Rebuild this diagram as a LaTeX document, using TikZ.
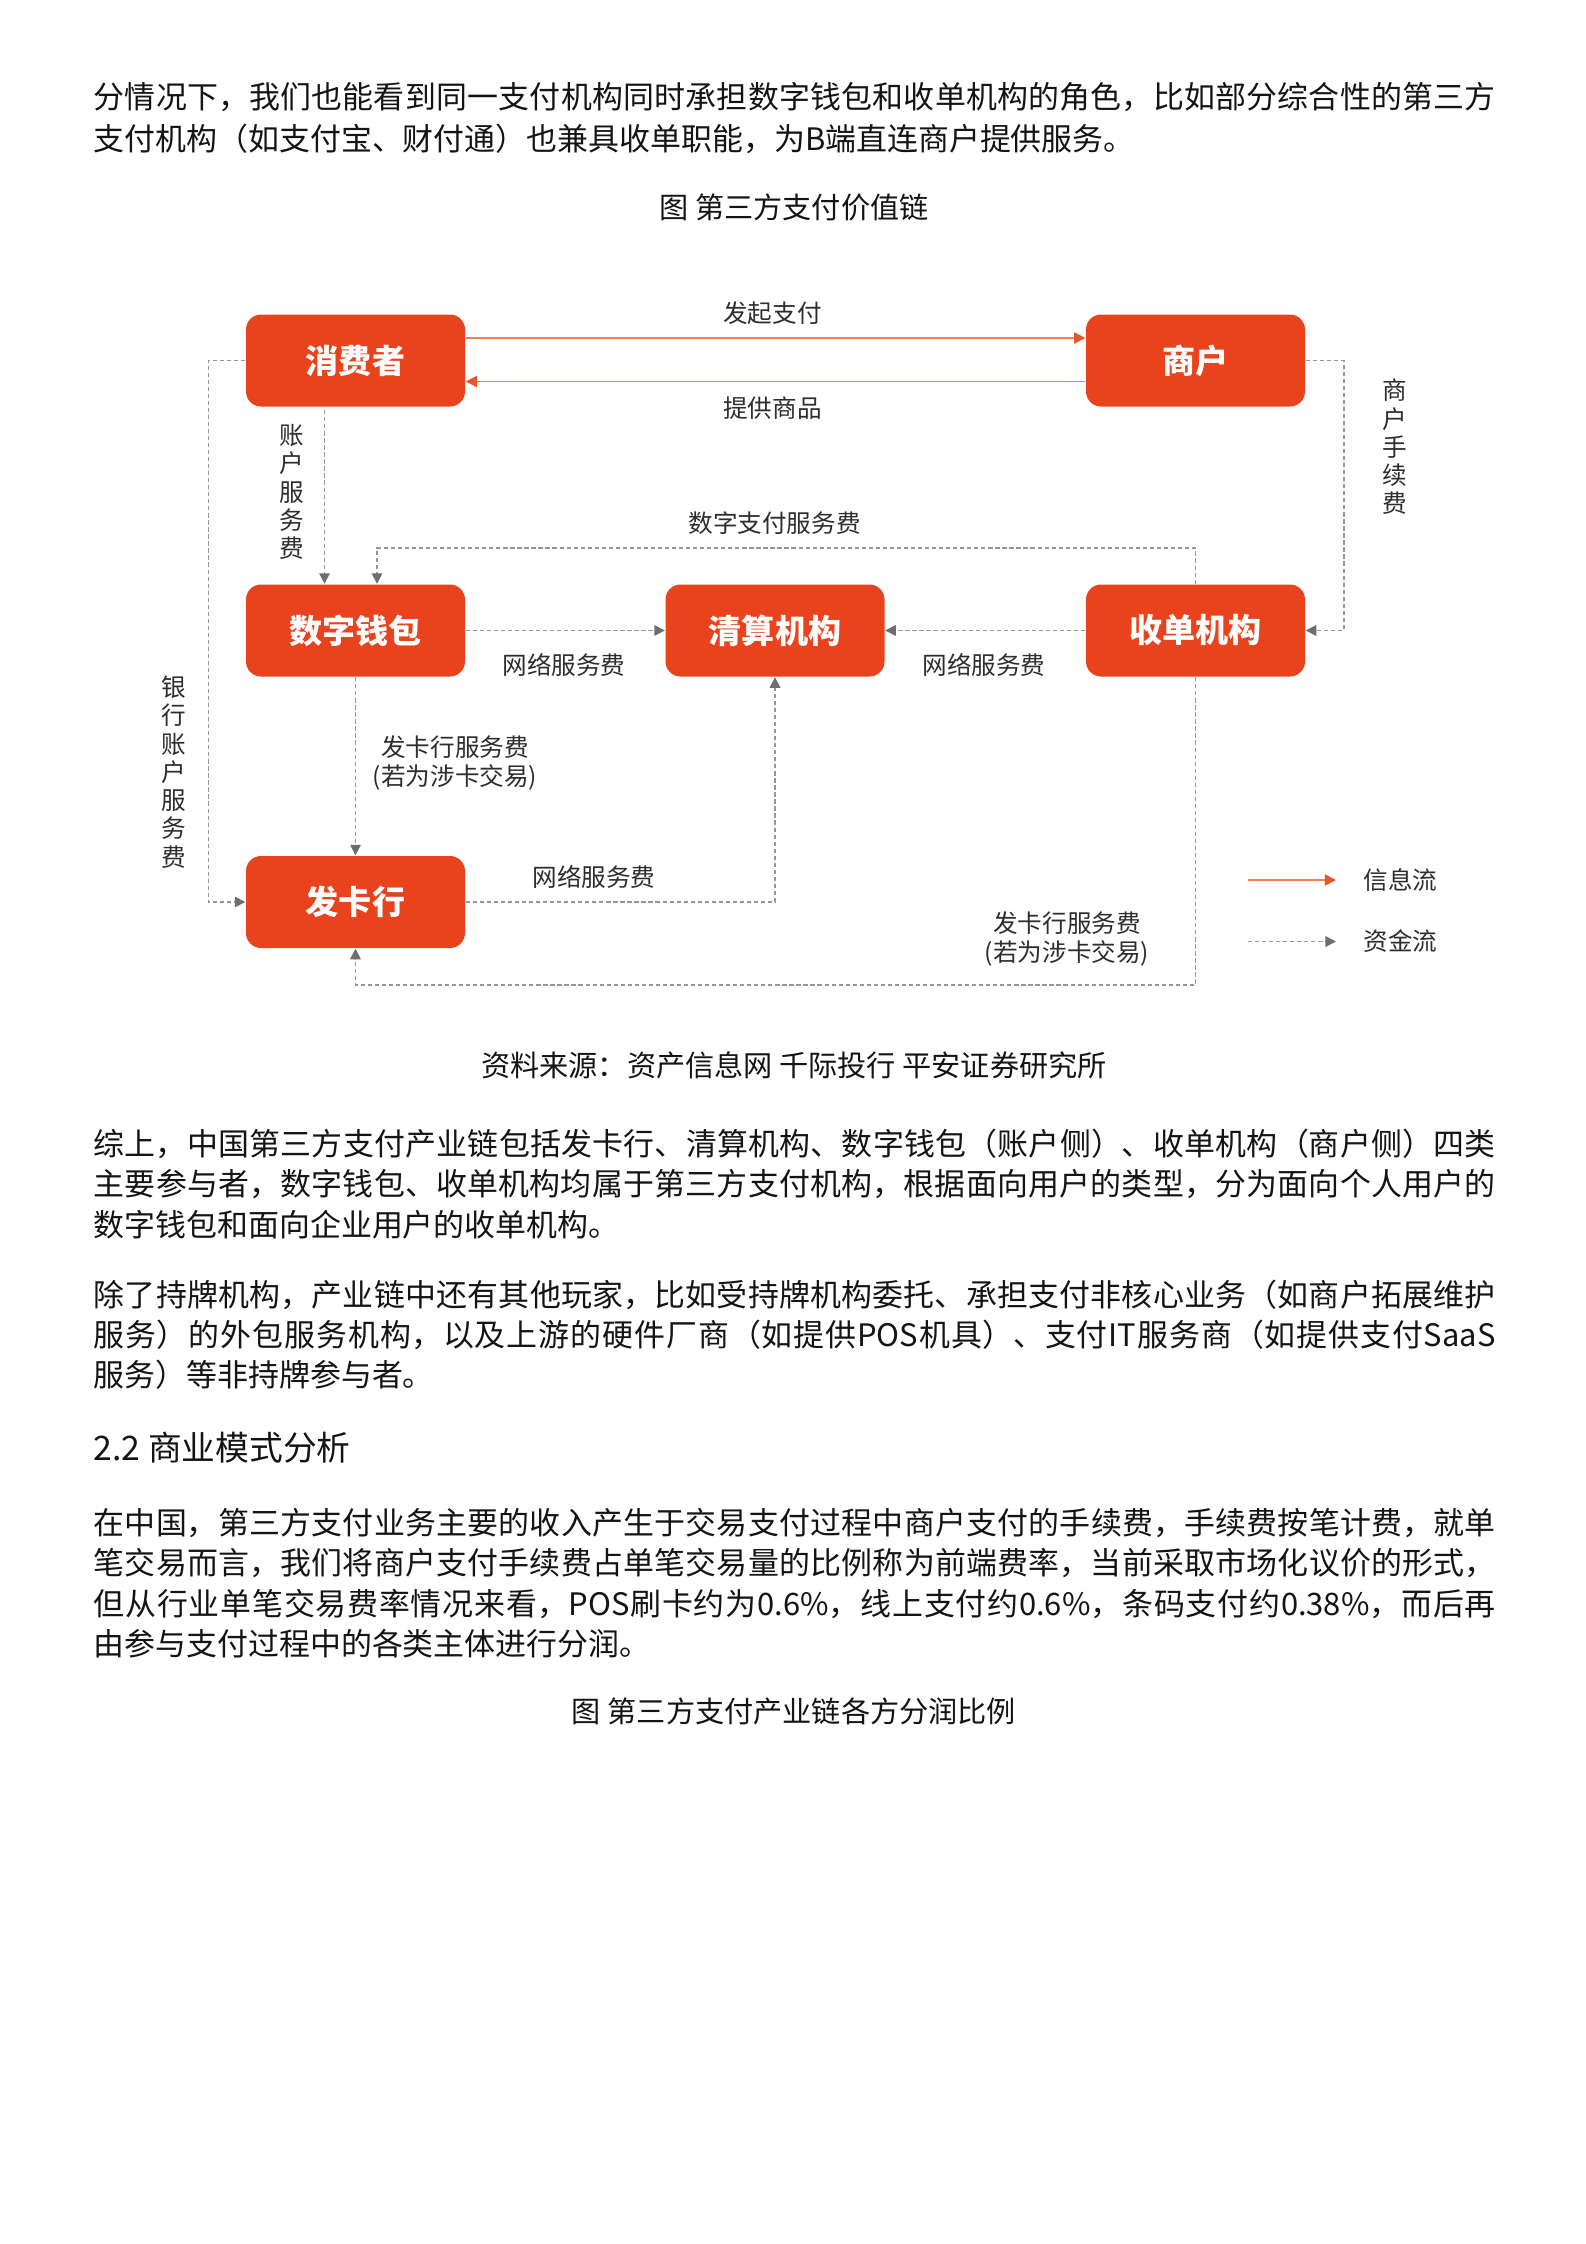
\documentclass[tikz,border=0pt]{standalone}
\usepackage{fontspec}
\setmainfont{Noto Sans CJK SC}
\usetikzlibrary{arrows.meta,calc}
\XeTeXlinebreaklocale "zh"
\XeTeXlinebreakskip=0pt plus 2pt minus 0.5pt
\definecolor{boxred}{RGB}{232,67,29}
\definecolor{infoorange}{RGB}{242,128,82}
\definecolor{infotip}{RGB}{234,84,42}
\definecolor{fundgray}{RGB}{150,150,150}
\definecolor{fundtip}{RGB}{110,110,110}
\definecolor{lblgray}{RGB}{45,45,45}
\definecolor{bodyblack}{RGB}{20,20,20}
\newcommand\mybodyfont{\fontsize{8.8pt}{10pt}\selectfont}
\newcommand\mycapfont{\fontsize{8.3pt}{10pt}\selectfont}
\newcommand\myheadfont{\fontsize{9.6pt}{12pt}\selectfont}
\newcommand\myboxfont{\fontsize{9.4pt}{11pt}\selectfont\bfseries}
\newcommand\mylblfont{\fontsize{7pt}{8.5pt}\selectfont}
\newcommand\myvlblfont{\fontsize{7pt}{8.05pt}\selectfont}
\newcommand\myjl[1]{\leftskip=0pt\rightskip=0pt\parfillskip=0pt\relax\noindent #1\par}
\begin{document}
\begin{tikzpicture}[x=0.1mm,y=-0.1mm,
  entity/.style={rectangle, rounded corners=1.5mm, fill=boxred, text=white, font=\myboxfont,
    minimum width=21.9mm, minimum height=9.2mm, inner sep=0},
  lbl/.style={font=\mylblfont, text=lblgray, inner sep=0, align=center},
  vlbl/.style={font=\myvlblfont, text=lblgray, inner sep=0, align=center},
  info/.style={draw=infoorange, line width=0.45pt, -{Triangle[length=3.2pt,width=3.2pt,color=infotip]}},
  fund/.style={draw=fundgray, line width=0.45pt, dash pattern=on 1.2pt off 0.8pt,
    -{Triangle[length=3pt,width=3pt,color=fundtip]}},
  body/.style={anchor=west, inner sep=0, font=\mybodyfont, text=bodyblack},
  jbody/.style={body, text width=140.2mm, align=justify},
  caption/.style={inner sep=0, font=\mycapfont, text=bodyblack}]
\path[use as bounding box, fill=white] (0,0) rectangle (1585,2244);

% ---------- text above ----------
\node[jbody] (p1a) at (93,97.3) {\myjl{分情况下，我们也能看到同一支付机构同时承担数字钱包和收单机构的角色，比如部分综合性的第三方}};
\node[body] (p1b) at (93,138.8) {支付机构（如支付宝、财付通）也兼具收单职能，为B端直连商户提供服务。};
\node[caption] (cap1) at (794,207.4) {图 第三方支付价值链};

% ---------- diagram boxes ----------
\node[entity] (xf) at (355.5,360.5) {消费者};
\node[entity] (sh) at (1195.5,360.5) {商户};
\node[entity] (qb) at (355.5,630.5) {数字钱包};
\node[entity] (qs) at (775,630.5) {清算机构};
\node[entity] (sd) at (1195.5,630.5) {收单机构};
\node[entity] (fk) at (355.5,902) {发卡行};

% ---------- info flow ----------
\draw[info] ([yshift=2.25mm]xf.east) -- ([yshift=2.25mm]sh.west);
\draw[info] ([yshift=-2.1mm]sh.west) -- ([yshift=-2.1mm]xf.east);

% ---------- fund flow ----------
\draw[fund] ([xshift=-3.1mm,yshift=-0.3mm]xf.south) -- ([xshift=-3.1mm]qb.north);
\draw[fund] (sd.north) -- ++(0,-36) -| ([xshift=2.15mm]qb.north);
\draw[fund] (qb.east) -- (qs.west);
\draw[fund] (sd.west) -- (qs.east);
\draw[fund] (sh.east) -- ++(38,0) |- (sd.east);
\draw[fund] (xf.west) -- ++(-37,0) |- (fk.west);
\draw[fund] (qb.south) -- (fk.north);
\draw[fund] (fk.east) -| (qs.south);
\draw[fund] (sd.south) -- ++(0,308) -| (fk.south);

% ---------- labels ----------
\node[lbl] (lfq) at (772.5,313) {发起支付};
\node[lbl] (ltg) at (772.5,408) {提供商品};
\node[lbl] (lsz) at (774.5,523) {数字支付服务费};
\node[lbl] (lwl1) at (564,665) {网络服务费};
\node[lbl] (lwl2) at (984,665) {网络服务费};
\node[lbl] (lwl3) at (594,877) {网络服务费};
\node[lbl] (lfk1) at (455,763) {发卡行服务费\\(若为涉卡交易)};
\node[lbl] (lfk2) at (1067,939) {发卡行服务费\\(若为涉卡交易)};
\node[vlbl] (lzh) at (291.7,492) {账\\户\\服\\务\\费};
\node[vlbl] (lsh) at (1395,447) {商\\户\\手\\续\\费};
\node[vlbl] (lyh) at (174,772) {银\\行\\账\\户\\服\\务\\费};

% ---------- legend ----------
\node[lbl, anchor=west] (lg1) at (1363,880) {信息流};
\node[lbl, anchor=west] (lg2) at (1363,941.5) {资金流};
\coordinate (lga) at (1248,880);
\coordinate (lgb) at (1248,941.5);
\draw[info] (lga) -- ([xshift=-2.7mm]lg1.west);
\draw[fund] (lgb) -- ([xshift=-2.7mm]lg2.west);

% ---------- text below ----------
\node[caption] (src) at (794,1065.7) {资料来源：资产信息网 千际投行 平安证券研究所};

\node[jbody] (p2a) at (93,1144.4) {\myjl{综上，中国第三方支付产业链包括发卡行、清算机构、数字钱包（账户侧）、收单机构（商户侧）四类}};
\node[jbody] (p2b) at (93,1184.5) {\myjl{主要参与者，数字钱包、收单机构均属于第三方支付机构，根据面向用户的类型，分为面向个人用户的}};
\node[body] (p2c) at (93,1224.5) {数字钱包和面向企业用户的收单机构。};

\node[jbody] (p3a) at (93,1294.6) {\myjl{除了持牌机构，产业链中还有其他玩家，比如受持牌机构委托、承担支付非核心业务（如商户拓展维护}};
\node[jbody] (p3b) at (93,1334.7) {\myjl{服务）的外包服务机构，以及上游的硬件厂商（如提供POS机具）、支付IT服务商（如提供支付SaaS}};
\node[body] (p3c) at (93,1374.7) {服务）等非持牌参与者。};

\node[body, font=\myheadfont] (h22) at (93,1447.7) {2.2 商业模式分析};

\node[jbody] (p4a) at (93,1523.5) {\myjl{在中国，第三方支付业务主要的收入产生于交易支付过程中商户支付的手续费，手续费按笔计费，就单}};
\node[jbody] (p4b) at (93,1563.5) {\myjl{笔交易而言，我们将商户支付手续费占单笔交易量的比例称为前端费率，当前采取市场化议价的形式，}};
\node[jbody] (p4c) at (93,1603.6) {\myjl{但从行业单笔交易费率情况来看，POS刷卡约为0.6\%，线上支付约0.6\%，条码支付约0.38\%，而后再}};
\node[body] (p4d) at (93,1643.7) {由参与支付过程中的各类主体进行分润。};

\node[caption] (cap2) at (794,1710.9) {图 第三方支付产业链各方分润比例};
\end{tikzpicture}
\end{document}
